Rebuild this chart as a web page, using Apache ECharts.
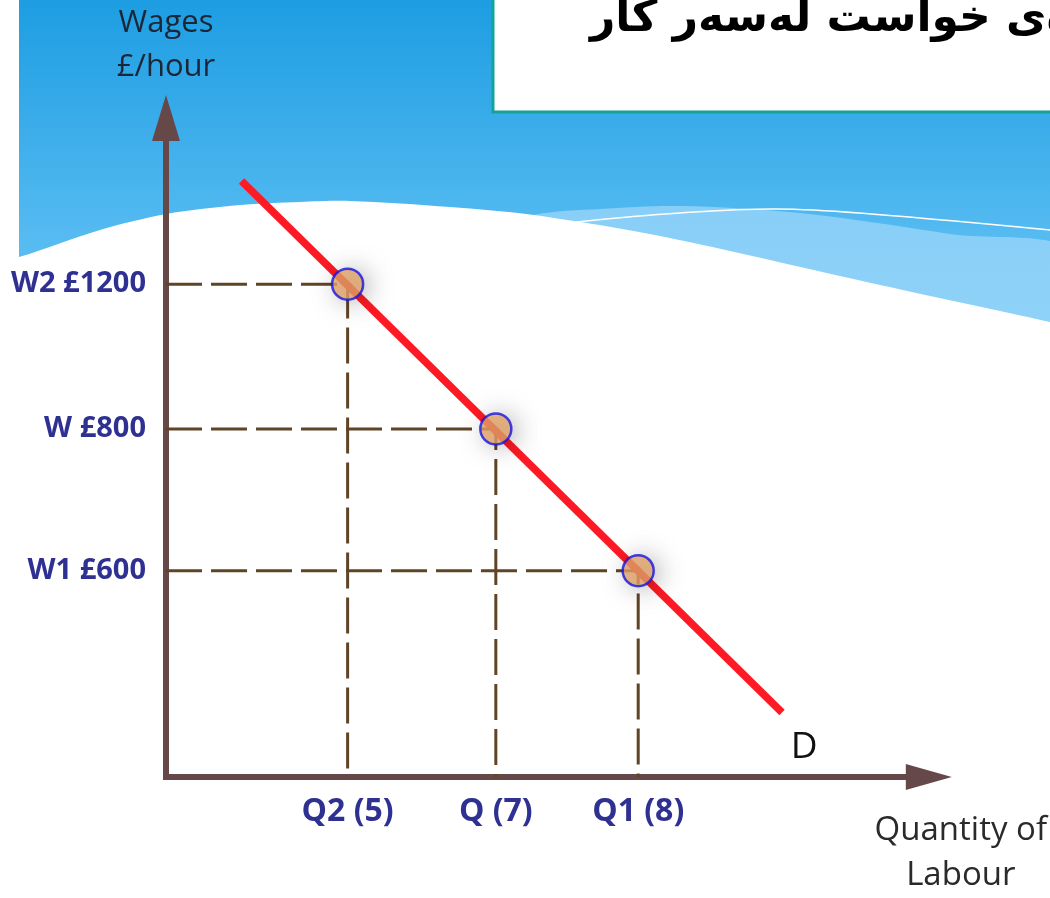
<!DOCTYPE html>
<html>
<head>
<meta charset="utf-8">
<script src="https://cdn.jsdelivr.net/npm/echarts@6/dist/echarts.min.js"></script>
<style>
html, body { margin: 0; padding: 0; background: #fff; overflow: hidden; }
#main { width: 1050px; height: 898px; }
</style>
</head>
<body>
<div id="main"></div>
<script>
// demand for labour: three wage / quantity pairs on the D line
var qNames = ['Q2', 'Q', 'Q1'];
var quantities = [5, 7, 8];
var wNames = ['W2', 'W', 'W1'];
var wages = [1200, 800, 600];
// the sketch is not to scale: where each pair sits on the axes
var qPos = [1.25, 2.27, 3.25];
var wPos = [3.44, 2.43, 1.44];
// two ends of the demand line D
var dLineX = [0.52, 4.24];
var dLineY = [4.16, 0.45];
var title = 'چەماوەی خواست لەسەر کار';

var axisColor = '#674848';
var guideColor = '#5f4426';
var labelColor = '#2e3192';
var font = '"Open Sans", "DejaVu Sans", sans-serif';

function qLabel(i){
	return qNames[i] + ' (' + quantities[i] + ')';
}
function wLabel(i){
	return wNames[i] + ' £' + wages[i];
}

var chart = echarts.init(document.getElementById('main'));

//dashed guides: from the wage axis across to the point, then down to the quantity axis
var guides = qPos.map(function(x, i){
	return {
		type : 'line',
		symbol : 'none',
		silent : true,
		z : 1,
		lineStyle : { color : guideColor, width : 3, type : [36, 9] },
		data : [[0, wPos[i]], [x, wPos[i]], [x, 0]]
	};
});

//background: blue slide header with a white wave
var background = [
	{
		type : 'rect', z : -30, silent : true,
		shape : { x : 19, y : 0, width : 1040, height : 400 },
		style : {
			fill : new echarts.graphic.LinearGradient(0, 0, 0, 1, [
				{ offset : 0, color : '#1d9de2' },
				{ offset : 0.6, color : '#56bbf1' },
				{ offset : 1, color : '#66c4f5' }
			])
		}
	},
	{
		type : 'polygon', z : -29, silent : true,
		shape : {
			smooth : 0.3,
			points : [[500, 232], [534, 215], [600, 209], [680, 206], [800, 213], [950, 234], [1080, 256], [1080, 420], [500, 420]]
		},
		style : {
			fill : new echarts.graphic.LinearGradient(0, 0, 0, 1, [
				{ offset : 0, color : '#88cef7' },
				{ offset : 1, color : '#98d6f9' }
			])
		}
	},
	{
		type : 'polyline', z : -28, silent : true,
		shape : {
			smooth : 0.4,
			points : [[576, 222], [680, 213], [776, 209], [871, 214], [1060, 231]]
		},
		style : { stroke : '#ffffff', lineWidth : 1.5, fill : null }
	},
	{
		type : 'polygon', z : -27, silent : true,
		shape : {
			smooth : 0.3,
			points : [[-20, 264], [19, 257], [100, 230], [166, 214], [240, 205], [300, 202], [350, 201], [450, 207], [534, 215], [665, 237], [871, 283], [1050, 322], [1090, 332], [1090, 930], [-20, 930]]
		},
		style : { fill : '#ffffff' }
	},
	{
		type : 'rect', z : 50, silent : true,
		shape : { x : 493, y : -6, width : 600, height : 118 },
		style : { fill : '#ffffff', stroke : '#13a39b', lineWidth : 3 }
	},
	{
		type : 'text', z : 51, silent : true,
		x : 590, y : 20,
		style : {
			text : title,
			font : 'bold 44px "DejaVu Sans", sans-serif',
			fill : '#000000',
			textAlign : 'left',
			textVerticalAlign : 'middle'
		}
	}
];

var option = {
	animation : false,
	backgroundColor : '#ffffff',
	graphic : background,
	grid : { left : 166, right : 120, top : 118, bottom : 116 },
	xAxis : {
		type : 'value',
		min : 0,
		max : 5.25,
		splitLine : { show : false },
		axisTick : { show : false },
		axisLine : {
			show : true,
			symbol : ['none', 'triangle'],
			symbolSize : [26, 46],
			lineStyle : { color : axisColor, width : 6, cap : 'square' }
		},
		axisLabel : {
			customValues : qPos,
			formatter : function(v){
				var i = qPos.indexOf(v);
				return i < 0 ? '' : qLabel(i);
			},
			color : labelColor,
			fontWeight : 'bold',
			fontSize : 32,
			fontFamily : font,
			margin : 19
		},
		name : 'Quantity of\nLabour',
		nameLocation : 'end',
		nameGap : 32,
		nameTextStyle : {
			color : '#2a2a2a',
			fontSize : 33,
			fontFamily : font,
			lineHeight : 45,
			align : 'center',
			verticalAlign : 'top',
			padding : [31, 0, 0, 0]
		}
	},
	yAxis : {
		type : 'value',
		min : 0,
		max : 4.6,
		splitLine : { show : false },
		axisTick : { show : false },
		axisLine : {
			show : true,
			symbol : ['none', 'triangle'],
			symbolSize : [28, 46],
			lineStyle : { color : axisColor, width : 6, cap : 'square' }
		},
		axisLabel : {
			customValues : wPos,
			formatter : function(v){
				var i = wPos.indexOf(v);
				return i < 0 ? '' : wLabel(i);
			},
			color : labelColor,
			fontWeight : 'bold',
			fontSize : 29,
			fontFamily : font,
			margin : 20
		},
		name : 'Wages\n£/hour',
		nameLocation : 'end',
		nameGap : 29,
		nameTextStyle : {
			color : '#1c2636',
			fontSize : 31,
			fontFamily : font,
			lineHeight : 44,
			align : 'center',
			verticalAlign : 'bottom'
		}
	},
	series : guides.concat([
		{
			type : 'line',
			name : 'D',
			z : 3,
			silent : true,
			symbol : 'circle',
			symbolSize : 1,
			itemStyle : { color : 'rgba(0,0,0,0)' },
			lineStyle : { color : '#fe1a24', width : 7.5 },
			data : [
				[dLineX[0], dLineY[0]],
				{
					value : [dLineX[1], dLineY[1]],
					label : {
						show : true,
						formatter : 'D',
						position : 'bottom',
						distance : 16,
						offset : [22, 0],
						color : '#111111',
						fontSize : 37,
						fontFamily : font
					}
				}
			]
		},
		{
			type : 'scatter',
			z : 5,
			silent : true,
			symbolSize : 31,
			itemStyle : {
				color : '#e8a66a',
				borderColor : '#1414e2',
				borderWidth : 2.5,
				shadowBlur : 24,
				shadowColor : 'rgba(0,0,0,0.33)',
				shadowOffsetX : 5,
				shadowOffsetY : 2
			},
			data : qPos.map(function(x, i){
				return [x, wPos[i]];
			})
		}
	])
};

chart.setOption(option);
</script>
</body>
</html>
